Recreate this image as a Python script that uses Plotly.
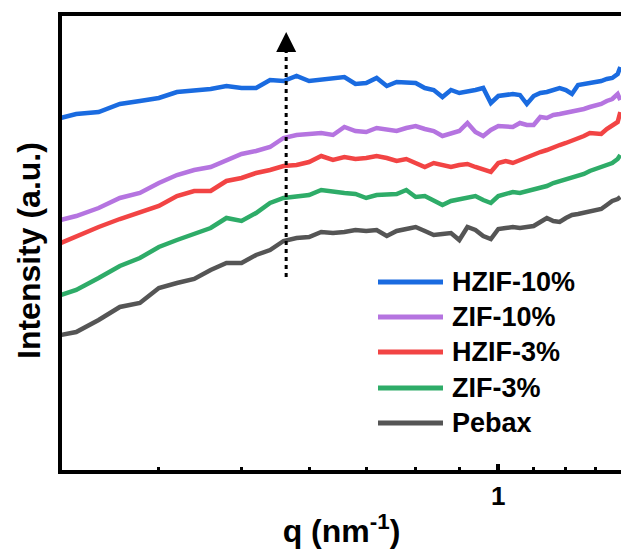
import math
import plotly.graph_objects as go

# q grid (nm^-1)
q = [0.307, 0.32, 0.34, 0.36, 0.38, 0.40, 0.42, 0.44, 0.46, 0.48,
     0.50, 0.52, 0.54, 0.56, 0.58, 0.60, 0.62, 0.64, 0.66, 0.68,
     0.70, 0.72, 0.74, 0.76, 0.78, 0.80, 0.82, 0.84, 0.86, 0.88,
     0.90, 0.92, 0.94, 0.96, 0.98, 1.00, 1.02, 1.04, 1.06, 1.08,
     1.10, 1.12, 1.14, 1.16, 1.18, 1.20, 1.22, 1.24, 1.26, 1.28,
     1.30, 1.32, 1.34, 1.36, 1.38, 1.39]

hzif10 = [352, 356, 358, 366, 369, 372, 378, 380, 381, 384,
          382, 382, 390, 389, 394, 389, 390, 391, 393, 386,
          387, 392, 384, 388, 388, 387, 382, 380, 373, 380,
          377, 378, 380, 382, 367, 374, 375, 376, 375, 366,
          374, 377, 378, 380, 382, 380, 376, 385, 386, 387,
          388, 389, 391, 392, 396, 403]

zif10 = [250, 254, 262, 272, 277, 287, 295, 300, 303, 310,
         316, 319, 323, 332, 335, 336, 337, 335, 343, 339,
         338, 342, 341, 339, 342, 344, 341, 339, 334, 337,
         339, 347, 338, 334, 340, 344, 343, 343, 347, 345,
         345, 353, 352, 355, 356, 357, 358, 360, 361, 363,
         364, 366, 369, 371, 376, 370]

hzif3 = [227, 234, 243, 251, 258, 264, 274, 279, 279, 289,
         292, 297, 300, 304, 305, 308, 314, 310, 313, 311,
         312, 314, 312, 309, 311, 307, 303, 307, 305, 303,
         305, 306, 303, 300, 298, 307, 309, 307, 310, 313,
         315, 318, 320, 323, 325, 327, 329, 331, 334, 337,
         336, 336, 341, 344, 348, 358]

zif3 = [175, 180, 192, 204, 212, 223, 230, 236, 242, 252,
        249, 257, 267, 272, 273, 275, 280, 278, 277, 276,
        272, 275, 275, 276, 280, 273, 274, 269, 265, 269,
        271, 273, 274, 270, 267, 274, 276, 278, 277, 279,
        281, 282, 284, 287, 289, 291, 293, 294, 296, 299,
        301, 302, 305, 307, 311, 315]

pebax = [135, 138, 150, 163, 167, 182, 187, 191, 200, 207,
         207, 215, 220, 229, 232, 233, 238, 237, 238, 240,
         239, 240, 234, 239, 241, 243, 239, 235, 236, 237,
         230, 243, 240, 234, 231, 241, 242, 243, 242, 243,
         244, 248, 252, 249, 248, 252, 255, 256, 257, 259,
         259, 261, 265, 269, 271, 273]

names = ["HZIF-10%", "ZIF-10%", "HZIF-3%", "ZIF-3%", "Pebax"]
series = [hzif10, zif10, hzif3, zif3, pebax]
colors = ["#1a6be0", "#b574e0", "#f24444", "#2eac68", "#555555"]

# arrow (q position, start and tip intensity)
arrow_q = 0.564
arrow_y0 = 193
arrow_y1 = 438

FONT = "Liberation Sans, Arial, sans-serif"

W, H = 621, 549
ML, MR, MT, MB = 62, 0, 16, 79
PW, PH = W - ML - MR, H - MT - MB

fig = go.Figure()
for name, ys, c in reversed(list(zip(names, series, colors))):
    fig.add_trace(go.Scatter(x=q, y=ys, mode="lines", name=name,
                             line=dict(color=c, width=4.5), showlegend=False))

# dotted arrow shaft
fig.add_trace(go.Scatter(x=[arrow_q, arrow_q], y=[arrow_y0, arrow_y1 - 20],
                         mode="lines", line=dict(color="black", width=3, dash="4px,4px"),
                         showlegend=False, hoverinfo="skip"))
# arrow head (annotation coords on log axis are log10)
ax_log = math.log10(arrow_q)
fig.add_annotation(x=ax_log, y=arrow_y1, ax=ax_log, ay=arrow_y1 - 22,
                   xref="x", yref="y", axref="x", ayref="y", text="",
                   showarrow=True, arrowhead=2, arrowsize=1.6, arrowwidth=2.5,
                   arrowcolor="black")

# manual legend
rows_px = [282, 317, 352, 388, 423]
for name, c, py in zip(names, colors, rows_px):
    yp = (H - MB - py) / PH
    x0 = (378 - ML) / PW
    x1 = (443 - ML) / PW
    fig.add_shape(type="line", xref="paper", yref="paper", x0=x0, x1=x1, y0=yp, y1=yp,
                  line=dict(color=c, width=5))
    fig.add_annotation(xref="paper", yref="paper", x=(450 - ML) / PW, y=yp,
                       xanchor="left", yanchor="middle", text=name, showarrow=False,
                       font=dict(family=FONT, size=27, color="black", weight="bold"))

# y-axis title placed precisely
fig.add_annotation(xref="paper", yref="paper", x=(29 - ML) / PW, y=(H - MB - 251) / PH,
                   xanchor="center", yanchor="middle", textangle=-90,
                   text="Intensity (a.u.)", showarrow=False,
                   font=dict(family=FONT, size=32, color="black", weight="bold"))

fig.update_layout(
    width=W, height=H,
    margin=dict(l=ML, r=MR, t=MT, b=MB),
    paper_bgcolor="white", plot_bgcolor="white",
    font=dict(family=FONT, color="black", weight="bold"),
    xaxis=dict(
        type="log", range=[-0.5115, 0.1438],
        showgrid=False, zeroline=False,
        showline=True, linecolor="black", linewidth=4, mirror=True,
        ticks="inside", ticklen=6, tickwidth=4, tickcolor="black",
        tickmode="array", tickvals=[1], ticktext=["1"],
        tickfont=dict(family=FONT, size=26, color="black", weight="bold"),
        minor=dict(tickmode="array",
                   tickvals=[0.4, 0.5, 0.6, 0.7, 0.8, 0.9, 1.1, 1.2, 1.3],
                   ticks="inside", ticklen=3, tickwidth=3, tickcolor="black", showgrid=False),
        title=dict(text="q (nm<sup>-1</sup>)", standoff=12,
                   font=dict(family=FONT, size=32, color="black", weight="bold")),
    ),
    yaxis=dict(
        range=[0, 454], showgrid=False, zeroline=False,
        showline=True, linecolor="black", linewidth=4,
        showticklabels=False, ticks="",
    ),
)

fig.write_html("out.html")
